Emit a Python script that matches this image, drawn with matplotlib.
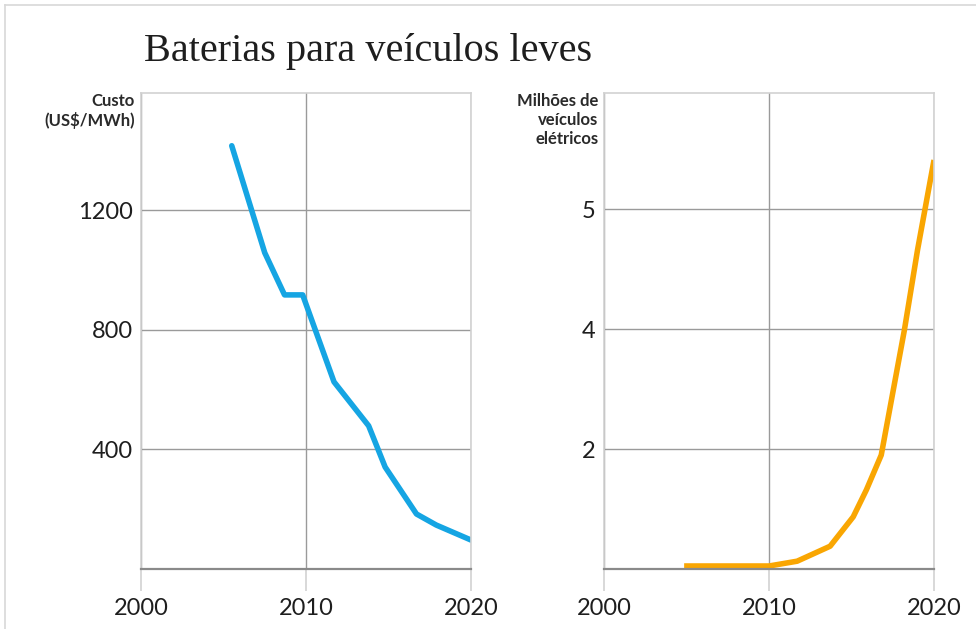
import matplotlib.pyplot as plt
import numpy as np
from matplotlib.lines import Line2D

# Battery pack cost, US$/MWh
cost_years = [2005.5, 2007.5, 2008.7, 2009.8, 2011.7, 2013.8, 2014.8, 2016.7, 2017.9, 2020.0]
cost_values = [1416, 1058, 917, 917, 626, 479, 341, 184, 147, 97]

# Electric vehicles on the road, millions
ev_years = [2004.85, 2010.0, 2011.7, 2013.7, 2015.1, 2015.9, 2016.8, 2018.2, 2019.0, 2020.0]
ev_values = [0.05, 0.05, 0.13, 0.38, 0.87, 1.32, 1.9, 3.98, 4.66, 5.41]

x_ticks = [2000, 2010, 2020]
cost_ticks = [400, 800, 1200]
ev_ticks = [2, 4, 5]

title = "Baterias para veículos leves"
cost_label = "Custo\n(US$/MWh)"
ev_label = "Milhões de\nveículos\nelétricos"

BLUE = "#15a5e3"
ORANGE = "#f9a602"
GRID = "#9a9a9a"
FRAME = "#d2d2d2"
TEXT = "#1e1e1e"
SANS = ["Lato", "DejaVu Sans"]


# EV axis is stretched above 4 million (one unit spans two grid steps)
def ev_forward(y):
    y = np.asarray(y, dtype=float)
    return np.where(y <= 4, y, 4 + (y - 4) * 2)


def ev_inverse(u):
    u = np.asarray(u, dtype=float)
    return np.where(u <= 4, u, 4 + (u - 4) / 2)


def style_panel(ax, yticks, label):
    ax.set_xlim(2000, 2020)
    ax.set_xticks(x_ticks)
    ax.set_xticklabels([str(t) for t in x_ticks], fontsize=17, color=TEXT, family=SANS)
    ax.set_yticks(yticks)
    ax.set_yticklabels([str(t) for t in yticks], fontsize=17, color=TEXT, family=SANS)
    ax.tick_params(axis="y", length=0, pad=6)
    ax.tick_params(axis="x", length=16, width=1.2, color=FRAME, pad=5)
    ax.grid(True, color=GRID, linewidth=1.0)
    for side in ["left", "right", "top"]:
        ax.spines[side].set_color(FRAME)
        ax.spines[side].set_linewidth(1.2)
    ax.spines["bottom"].set_color("#8a8a8a")
    ax.spines["bottom"].set_linewidth(1.6)
    ax.set_axisbelow(True)
    ax.text(-0.018, 1.0, label, transform=ax.transAxes, ha="right", va="top",
            fontsize=12, fontweight="bold", color="#2a2a2a", family=SANS, linespacing=1.25)


fig = plt.figure(figsize=(9.76, 6.29), dpi=100)

ax1 = fig.add_axes([0.1445, 0.0954, 0.338, 0.757])
ax1.plot(cost_years, cost_values, color=BLUE, linewidth=4.0,
         solid_capstyle="round", solid_joinstyle="round")
ax1.set_ylim(0, 1593)
style_panel(ax1, cost_ticks, cost_label)

ax2 = fig.add_axes([0.619, 0.0954, 0.338, 0.757])
ax2.set_yscale("function", functions=(ev_forward, ev_inverse))
ax2.plot(ev_years, ev_values, color=ORANGE, linewidth=4.0,
         solid_capstyle="butt", solid_joinstyle="round")
ax2.set_ylim(0, 5.97)
style_panel(ax2, ev_ticks, ev_label)

fig.text(0.1475, 0.918, title, fontsize=29, family=["Liberation Serif", "DejaVu Serif"],
         color=TEXT, ha="left", va="center")

# thin outer border along top and left edge
fig.add_artist(Line2D([0.005, 1.0], [0.992, 0.992], transform=fig.transFigure,
                      color="#d8d8d8", linewidth=1.2))
fig.add_artist(Line2D([0.005, 0.005], [0.0, 0.992], transform=fig.transFigure,
                      color="#d8d8d8", linewidth=1.2))

fig.savefig("out.png", dpi=100)
